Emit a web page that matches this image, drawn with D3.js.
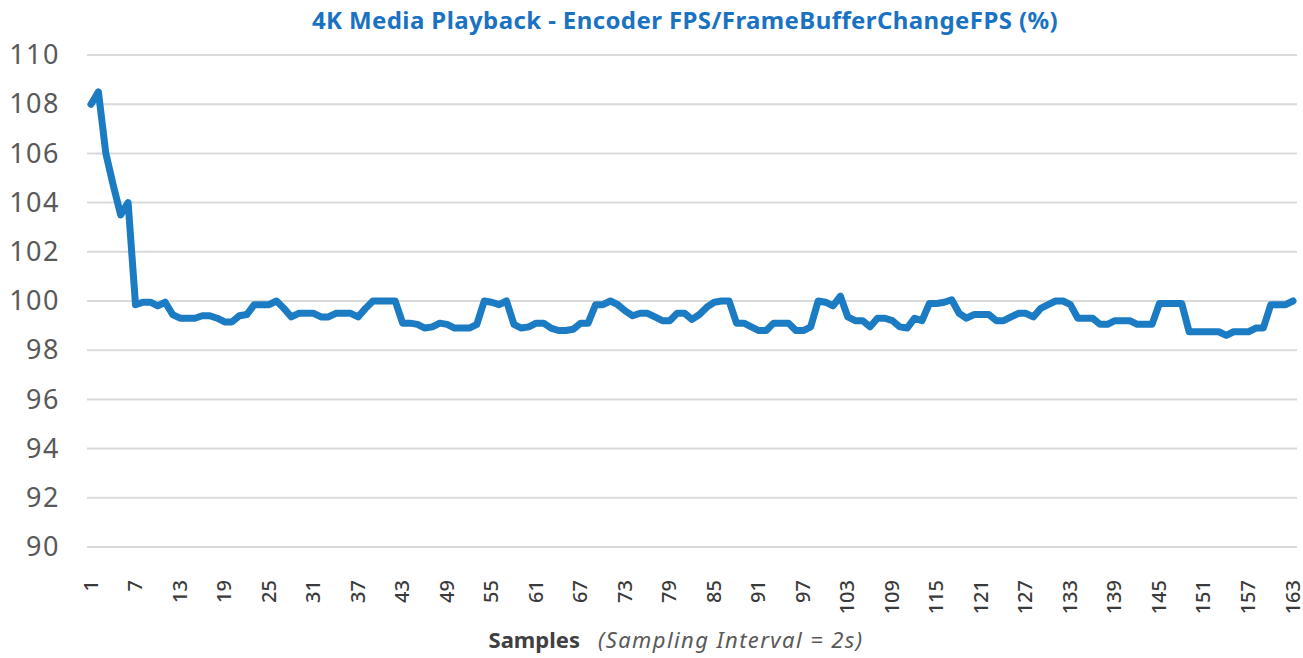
<!DOCTYPE html>
<html>
<head>
<meta charset="utf-8">
<script src="https://cdn.jsdelivr.net/npm/d3@7"></script>
<style>
  html, body { margin: 0; padding: 0; background: #fff; }
  svg { display: block; }
</style>
</head>
<body>
<svg id="chart" width="1303" height="658"></svg>
<script>
// Encoder FPS / FrameBufferChangeFPS (%) per sample
const fpsRatio = [
  108.0, 108.5, 106.0, 104.7, 103.5, 104.0, 99.85, 99.95, 99.95, 99.8,
  99.95, 99.45, 99.3, 99.3, 99.3, 99.4, 99.4, 99.3, 99.15, 99.15,
  99.4, 99.45, 99.85, 99.85, 99.85, 100.0, 99.7, 99.35, 99.5, 99.5,
  99.5, 99.35, 99.35, 99.5, 99.5, 99.5, 99.35, 99.7, 100.0, 100.0,
  100.0, 100.0, 99.1, 99.1, 99.05, 98.9, 98.95, 99.1, 99.05, 98.9,
  98.9, 98.9, 99.05, 100.0, 99.95, 99.85, 100.0, 99.05, 98.9, 98.95,
  99.1, 99.1, 98.9, 98.8, 98.8, 98.85, 99.1, 99.1, 99.85, 99.85,
  100.0, 99.85, 99.6, 99.4, 99.5, 99.5, 99.35, 99.2, 99.2, 99.5,
  99.5, 99.25, 99.45, 99.75, 99.95, 100.0, 100.0, 99.1, 99.1, 98.95,
  98.8, 98.8, 99.1, 99.1, 99.1, 98.8, 98.8, 98.95, 100.0, 99.95,
  99.8, 100.2, 99.35, 99.2, 99.2, 98.95, 99.3, 99.3, 99.2, 98.95,
  98.9, 99.3, 99.2, 99.9, 99.9, 99.95, 100.05, 99.5, 99.3, 99.45,
  99.45, 99.45, 99.2, 99.2, 99.35, 99.5, 99.5, 99.35, 99.7, 99.85,
  100.0, 100.0, 99.85, 99.3, 99.3, 99.3, 99.05, 99.05, 99.2, 99.2,
  99.2, 99.05, 99.05, 99.05, 99.9, 99.9, 99.9, 99.9, 98.75, 98.75,
  98.75, 98.75, 98.75, 98.6, 98.75, 98.75, 98.75, 98.9, 98.9, 99.85,
  99.85, 99.85, 100.0
];
const samples = fpsRatio.map((v, i) => i + 1);

const yTicks = [90, 92, 94, 96, 98, 100, 102, 104, 106, 108, 110];
const xTickLabels = [1, 7, 13, 19, 25, 31, 37, 43, 49, 55, 61, 67, 73, 79, 85, 91, 97,
  103, 109, 115, 121, 127, 133, 139, 145, 151, 157, 163];

const TITLE = '4K Media Playback - Encoder FPS/FrameBufferChangeFPS (%)';
const LINE_COLOR = '#1b7cc4';

const svg = d3.select('#chart');

// Layout
const plotLeft = 87, plotRight = 1297;
const x = d3.scaleLinear().domain([1, 163]).range([91, 1293]);
const y = d3.scaleLinear().domain([90, 110]).range([547, 55]);

// Title
svg.append('text')
  .attr('x', 685)
  .attr('y', 29)
  .attr('text-anchor', 'middle')
  .attr('font-family', '"Noto Sans", sans-serif')
  .attr('font-weight', 700)
  .attr('font-size', 24)
  .attr('letter-spacing', 0.4)
  .attr('fill', '#1a72c3')
  .text(TITLE);

// Gridlines
svg.append('g')
  .selectAll('line')
  .data(yTicks)
  .join('line')
  .attr('x1', plotLeft)
  .attr('x2', plotRight)
  .attr('y1', d => y(d))
  .attr('y2', d => y(d))
  .attr('stroke', '#d9d9d9')
  .attr('stroke-width', 2);

// Y axis labels
const yAxis = d3.axisLeft(y).tickValues(yTicks).tickSize(0).tickPadding(0);
svg.append('g')
  .attr('transform', 'translate(60,0)')
  .call(yAxis)
  .call(g => g.select('.domain').remove())
  .call(g => g.selectAll('text')
    .attr('font-family', '"Noto Sans", sans-serif')
    .attr('font-size', 27)
    .attr('letter-spacing', 1.5)
    .attr('fill', '#595959'));

// X axis labels (rotated)
const xAxis = d3.axisBottom(x).tickValues(xTickLabels).tickSize(0).tickPadding(0);
svg.append('g')
  .attr('transform', 'translate(0,580)')
  .call(xAxis)
  .call(g => g.select('.domain').remove())
  .call(g => g.selectAll('text')
    .attr('font-family', '"Noto Sans", sans-serif')
    .attr('font-size', 20)
    .attr('font-weight', 500)
    .attr('fill', '#3a3a3a')
    .attr('text-anchor', 'end')
    .attr('dy', '0.3em')
    .attr('y', 0)
    .attr('transform', 'rotate(-90)'));

// X axis title
const xTitle = svg.append('text')
  .attr('x', 676)
  .attr('y', 648)
  .attr('text-anchor', 'middle')
  .attr('font-family', '"Noto Sans", sans-serif')
  .attr('font-size', 22);
xTitle.append('tspan')
  .attr('font-weight', 700)
  .attr('fill', '#404040')
  .text('Samples');
xTitle.append('tspan')
  .attr('font-style', 'italic')
  .attr('fill', '#595959')
  .attr('letter-spacing', 1.4)
  .attr('dx', 18)
  .text('(Sampling Interval = 2s)');

// Line
const line = d3.line()
  .x((d, i) => x(samples[i]))
  .y(d => y(d));

svg.append('path')
  .datum(fpsRatio)
  .attr('d', line)
  .attr('fill', 'none')
  .attr('stroke', LINE_COLOR)
  .attr('stroke-width', 7)
  .attr('stroke-linejoin', 'round')
  .attr('stroke-linecap', 'round');
</script>
</body>
</html>
